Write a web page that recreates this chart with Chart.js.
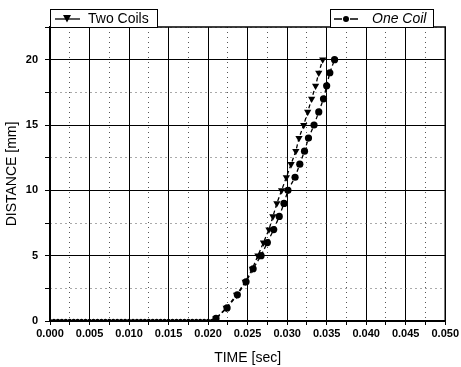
<!DOCTYPE html>
<html>
<head>
<meta charset="utf-8">
<script src="https://cdn.jsdelivr.net/npm/chart.js@4"></script>
<style>
html,body{margin:0;padding:0;background:#fff;}
#wrap{width:461px;height:367px;position:relative;}
</style>
</head>
<body>
<div id="wrap"><canvas id="c" width="461" height="367"></canvas></div>
<script>
// Flat part (before motion starts), shared by both series
const flatTime = [0.0000,0.0005,0.0010,0.0015,0.0020,0.0025,0.0030,0.0035,0.0040,0.0045,
  0.0050,0.0055,0.0060,0.0065,0.0070,0.0075,0.0080,0.0085,0.0090,0.0095,
  0.0100,0.0105,0.0110,0.0115,0.0120,0.0125,0.0130,0.0135,0.0140,0.0145,
  0.0150,0.0155,0.0160,0.0165,0.0170,0.0175,0.0180,0.0185,0.0190,0.0195,
  0.0200,0.0205];
const flatDist = [0,0,0,0,0,0,0,0,0,0, 0,0,0,0,0,0,0,0,0,0,
  0,0,0,0,0,0,0,0,0,0, 0,0,0,0,0,0,0,0,0,0, 0,0];
// Rising part
const riseDist = [0.2,1,2,3,4,5,6,7,8,9,10,11,12,13,14,15,16,17,18,19,20];
const twoCoilsTime = [0.0210,0.0223,0.0236,0.0247,0.0256,0.0263,0.0270,0.0277,0.0282,0.0287,
  0.0293,0.0299,0.0305,0.0311,0.0315,0.0321,0.0326,0.0331,0.0336,0.0340,0.0345];
const oneCoilTime = [0.0210,0.0224,0.0237,0.0248,0.0257,0.0267,0.0275,0.0283,0.0290,0.0296,
  0.0301,0.0310,0.0316,0.0322,0.0327,0.0334,0.0340,0.0346,0.0350,0.0354,0.0360];
const xTicks = ['0.000','0.005','0.010','0.015','0.020','0.025','0.030','0.035','0.040','0.045','0.050'];
const yTicks = ['0','5','10','15','20'];
const seriesNames = ['Two Coils','One Coil'];

function toPoints(t, d){ return t.map((x,i)=>({x:x,y:d[i]})); }
const twoData = toPoints(flatTime.concat(twoCoilsTime), flatDist.concat(riseDist));
const oneData = toPoints(flatTime.concat(oneCoilTime), flatDist.concat(riseDist));

function isMajor(v, step){ const r = v/step; return Math.abs(r - Math.round(r)) < 1e-6; }

const FONT = '"Liberation Sans", Arial, sans-serif';

const framePlugin = {
  id: 'frame',
  afterDraw(chart){
    const {ctx, chartArea:a} = chart;
    ctx.save();
    ctx.strokeStyle = '#000';
    ctx.lineWidth = 1.5;
    ctx.strokeRect(a.left, a.top, a.right - a.left, a.bottom - a.top);
    // legend boxes
    function box(x1, x2, y1, y2){
      ctx.fillStyle = '#fff';
      ctx.fillRect(x1, y1, x2-x1, y2-y1);
      ctx.lineWidth = 1;
      ctx.strokeStyle = '#000';
      ctx.strokeRect(x1+0.5, y1+0.5, x2-x1, y2-y1);
    }
    const y1 = a.top - 18, y2 = a.top;
    const ym = (y1 + y2)/2 + 1;
    // Two Coils box
    box(a.left, a.left + 107, y1, y2);
    ctx.beginPath(); ctx.lineWidth = 1.3;
    ctx.moveTo(a.left + 5, ym); ctx.lineTo(a.left + 30, ym); ctx.stroke();
    ctx.beginPath();
    ctx.moveTo(a.left + 13, ym - 4); ctx.lineTo(a.left + 21, ym - 4); ctx.lineTo(a.left + 17, ym + 3.5); ctx.closePath();
    ctx.fillStyle = '#000'; ctx.fill();
    ctx.font = '14px ' + FONT; ctx.textBaseline = 'middle'; ctx.textAlign = 'left';
    ctx.fillText(seriesNames[0], a.left + 38, ym);
    // One Coil box
    const bx = 330;
    box(bx, 433, y1, y2);
    ctx.beginPath(); ctx.lineWidth = 1.3; ctx.strokeStyle = '#000';
    ctx.moveTo(bx + 4, ym); ctx.lineTo(bx + 12, ym); ctx.moveTo(bx + 20, ym); ctx.lineTo(bx + 28, ym); ctx.stroke();
    ctx.beginPath(); ctx.arc(bx + 16, ym, 3, 0, Math.PI*2); ctx.fillStyle = '#000'; ctx.fill();
    ctx.font = 'italic 14px ' + FONT;
    ctx.fillText(seriesNames[1], bx + 42, ym);
    ctx.restore();
  }
};

const pr = (big) => (c) => (c.raw && c.raw.y === 0 ? 2.2 : big);

new Chart(document.getElementById('c'), {
  type: 'line',
  data: {
    datasets: [
      { label: seriesNames[0], data: twoData, borderColor: '#000', backgroundColor: '#000',
        borderWidth: 1.3, borderDash: [4,3], pointStyle: 'triangle', rotation: 180,
        pointRadius: pr(4.2), pointBorderWidth: 0, pointBackgroundColor: '#000', tension: 0 },
      { label: seriesNames[1], data: oneData, borderColor: '#000', backgroundColor: '#000',
        borderWidth: 1.3, borderDash: [4,3], pointStyle: 'circle',
        pointRadius: pr(3.6), pointBorderWidth: 0, pointBackgroundColor: '#000', tension: 0 }
    ]
  },
  options: {
    responsive: false,
    animation: false,
    devicePixelRatio: 1,
    layout: { padding: { left: 0, right: 14, top: 27, bottom: 0 } },
    plugins: { legend: { display: false }, tooltip: { enabled: false } },
    scales: {
      x: {
        type: 'linear', min: 0, max: 0.05,
        afterFit(s){ s.height = 46; },
        ticks: { stepSize: 0.0025, autoSkip: false, maxRotation: 0, padding: 2,
          color: '#000', font: { family: FONT, size: 11, weight: 'bold' },
          callback: (v) => isMajor(v, 0.005) ? xTicks[Math.round(v/0.005)] : '' },
        grid: { color: (c) => c.tick && isMajor(c.tick.value, 0.005) ? '#000' : '#555',
          lineWidth: 1, tickLength: 4, tickColor: '#000' },
        border: { display: true, color: '#000', width: 1.5,
          dash: (c) => (c.tick && !isMajor(c.tick.value, 0.005)) ? [1,4] : [] },
        title: { display: true, text: 'TIME [sec]', color: '#000',
          font: { family: FONT, size: 14 }, padding: { top: 3, bottom: 0 } }
      },
      y: {
        type: 'linear', min: 0, max: 22.5,
        afterFit(s){ s.width = 50; },
        ticks: { stepSize: 2.5, autoSkip: false, padding: 7,
          color: '#000', font: { family: FONT, size: 11, weight: 'bold' },
          callback: (v) => isMajor(v, 5) ? yTicks[Math.round(v/5)] : '' },
        grid: { color: (c) => c.tick && isMajor(c.tick.value, 5) ? '#000' : '#555',
          lineWidth: 1, tickLength: 5, tickColor: '#000' },
        border: { display: true, color: '#000', width: 1.5,
          dash: (c) => (c.tick && !isMajor(c.tick.value, 5)) ? [1,4] : [] },
        title: { display: true, text: 'DISTANCE [mm]', color: '#000',
          font: { family: FONT, size: 14 }, padding: { top: 4, bottom: 4 } }
      }
    }
  },
  plugins: [framePlugin]
});
</script>
</body>
</html>
